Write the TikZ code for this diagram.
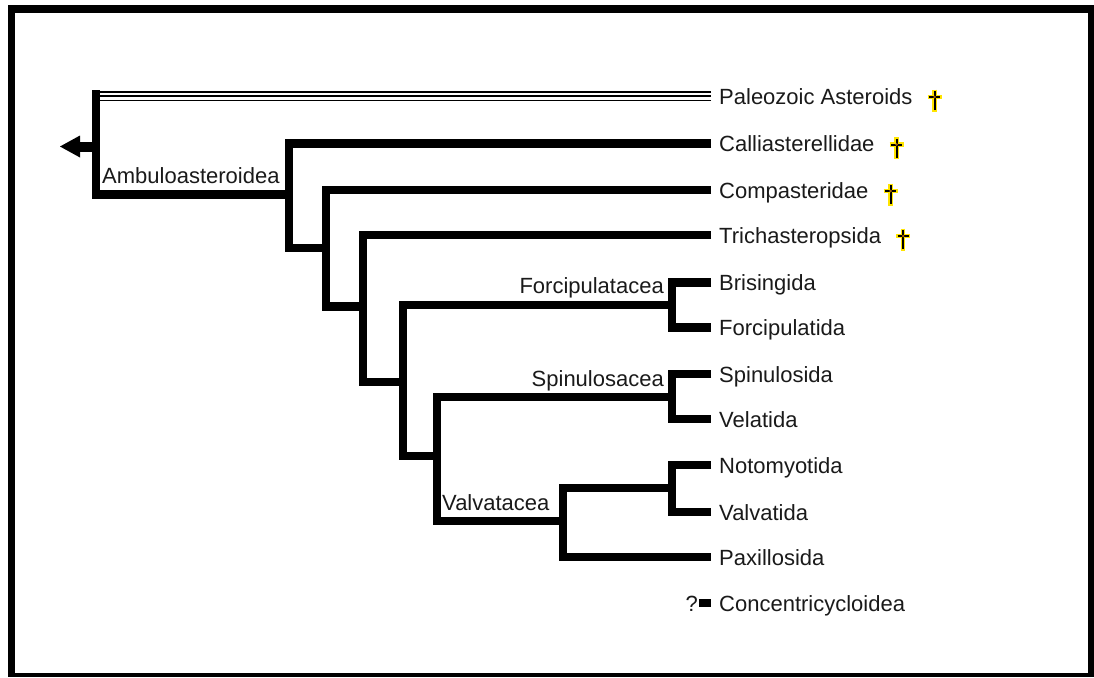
\documentclass[tikz,border=0pt]{standalone}
\usepackage{fontspec}
\setmainfont{Liberation Sans}
\definecolor{txt}{HTML}{1A1A1A}
\definecolor{dagy}{HTML}{FFE400}
\definecolor{dagc}{HTML}{A06000}
\tikzset{
  br/.style={line width=8.5pt, line join=miter, draw=black},
  leaf/.style={anchor=west, inner xsep=8pt, inner ysep=0pt, text height=16pt, text depth=0pt,
     font=\fontsize{22}{26}\selectfont, text=txt},
  clade/.style={inner sep=0pt, font=\fontsize{22}{26}\selectfont, text=txt},
  dag/.pic={
    \draw[dagy, line width=4.5pt] (0,-7.5) -- (0,14.5);
    \draw[dagy, line width=4.5pt] (-7,0) -- (7,0);
    \draw[black, line width=2pt] (0,-6) -- (0,13);
    \draw[black, line width=2pt] (-5.5,0) -- (5.5,0);
    \fill[dagc] (0,0) circle (1.5);
  }
}
\begin{document}
\begin{tikzpicture}[x=1pt,y=-1pt]
\useasboundingbox (0,0) rectangle (1094,677);
% frame
\fill[black] (8,5) rectangle (1094,677);
\fill[white] (15,13) rectangle (1088,673);

% leaf labels
\node[leaf] (paleo) at (711,96) {Paleozoic Asteroids};
\node[leaf] (calli) at (711,143.5) {Calliasterellidae};
\node[leaf] (compa) at (711,190) {Compasteridae};
\node[leaf] (trich) at (711,235) {Trichasteropsida};
\node[leaf] (brisi) at (711,282.5) {Brisingida};
\node[leaf] (forci) at (711,327.5) {Forcipulatida};
\node[leaf] (spinu) at (711,374) {Spinulosida};
\node[leaf] (velat) at (711,419) {Velatida};
\node[leaf] (notom) at (711,465) {Notomyotida};
\node[leaf] (valva) at (711,512) {Valvatida};
\node[leaf] (paxil) at (711,557) {Paxillosida};
\node[leaf] (conce) at (711,603) {Concentricycloidea};
\node[clade, anchor=east, text height=16pt, text depth=0pt] (qm) at (698,603) {?};

% daggers
\pic at ([xshift=14pt,yshift=-1pt]paleo.east) {dag};
\pic at ([xshift=14pt,yshift=-1pt]calli.east) {dag};
\pic at ([xshift=14pt,yshift=-1pt]compa.east) {dag};
\pic at ([xshift=14pt,yshift=-1pt]trich.east) {dag};

% internal node coordinates
\coordinate (R) at (96,194.5);
\coordinate (Rtop) at (96,90);
\coordinate (A) at (289,248);
\coordinate (B) at (326,306.7);
\coordinate (C) at (363,382);
\coordinate (D) at (403,456);
\coordinate (E) at (437,521);
\coordinate (F) at (672,305);
\coordinate (G) at (672,397);
\coordinate (H) at (563,557);
\coordinate (I) at (672,488);
\coordinate (stub) at (80,147);

% clade labels
\node[clade, anchor=base west] (ambu) at (102,183) {Ambuloasteroidea};
\node[clade, anchor=base east] (forcl) at (664,293) {Forcipulatacea};
\node[clade, anchor=base east] (spinl) at (664,386) {Spinulosacea};
\node[clade, anchor=base west] (valvl) at (442,510) {Valvatacea};

% Paleozoic triple line
\foreach \dy in {-4.3,0,4}{
  \draw[line width=1.6pt] ([yshift=\dy pt]paleo.west) -- ([yshift=\dy pt]paleo.west -| Rtop);
}
% root
\draw[br] (Rtop) -- (R) -- (R -| A);
\draw[line width=10pt] (stub) -- (stub -| R);
\fill (60,146.5) -- (80,135.5) -- (80,157.5) -- cycle;

% branches
\draw[br] (calli.west) -| (A) -- (A -| B);
\draw[br] (compa.west) -| (B) -- (B -| C);
\draw[br] (trich.west) -| (C) -- (C -| D);
\draw[br] (F) -| (D) -- (D -| E);
\draw[br] (brisi.west) -| (forci.west -| F) -- (forci.west);
\draw[br] (G) -| (E) -- (E -| H);
\draw[br] (spinu.west) -| (velat.west -| G) -- (velat.west);
\draw[br] (I) -| (H) -- (paxil.west);
\draw[br] (notom.west) -| (valva.west -| I) -- (valva.west);
% Concentricycloidea mark
\draw[line width=8pt] (qm.east) ++(1,0) -- (conce.west);
\end{tikzpicture}
\end{document}
